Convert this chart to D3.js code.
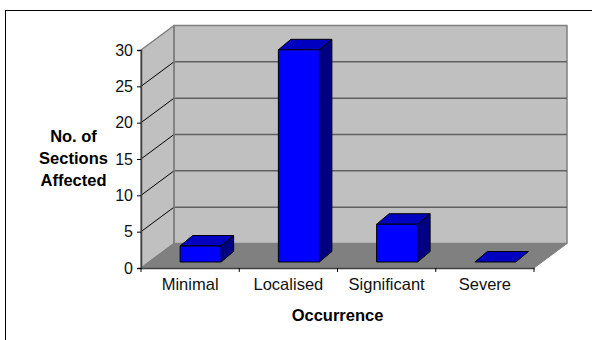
<!DOCTYPE html>
<html>
<head>
<meta charset="utf-8">
<script src="https://cdn.jsdelivr.net/npm/d3@7"></script>
<style>
  html, body { margin: 0; padding: 0; background: #fff; }
  svg { display: block; font-family: "Liberation Sans", Arial, sans-serif; }
</style>
</head>
<body>
<svg id="chart" width="592" height="340"></svg>
<script>
var categories = ["Minimal", "Localised", "Significant", "Severe"];
var values = [2.2, 29.2, 5.2, 0];
var yTicks = [0, 5, 10, 15, 20, 25, 30];
var yTitle = ["No. of", "Sections", "Affected"];
var xTitle = "Occurrence";

var svg = d3.select("#chart");

// front plane scales
var x = d3.scaleBand().domain(categories).range([141, 534]);
var y = d3.scaleLinear().domain([0, 30]).range([268, 50]);

// 3d offsets
var depth = { dx: 33, dy: -24.5 };
var barDepth = { dx: 12.5, dy: -10.5 };
var barShift = { dx: 10.5, dy: -6 };
var barWidth = 41;

function poly(points, fill, stroke, sw) {
  svg.append("polygon")
    .attr("points", points.map(function (p) { return p.join(","); }).join(" "))
    .attr("fill", fill)
    .attr("stroke", stroke)
    .attr("stroke-width", sw)
    .attr("stroke-linejoin", "round");
}

// outer frame
svg.append("rect")
  .attr("x", 5.5).attr("y", 10.5)
  .attr("width", 620).attr("height", 340)
  .attr("fill", "none")
  .attr("stroke", "black")
  .attr("stroke-width", 1);

var x0 = x.range()[0], x1 = x.range()[1];
var yb = y(0), yt = y(30);

// walls and floor
poly([[x0 + depth.dx, yt + depth.dy], [x1 + depth.dx, yt + depth.dy], [x1 + depth.dx, yb + depth.dy], [x0 + depth.dx, yb + depth.dy]], "#c0c0c0", "#808080", 1.5);
poly([[x0, yt], [x0 + depth.dx, yt + depth.dy], [x0 + depth.dx, yb + depth.dy], [x0, yb]], "#c0c0c0", "#808080", 1.5);
poly([[x0, yb], [x0 + depth.dx, yb + depth.dy], [x1 + depth.dx, yb + depth.dy], [x1, yb]], "#808080", "#808080", 1);

// grid lines
yTicks.slice(1, -1).forEach(function (t) {
  svg.append("line")
    .attr("x1", x0).attr("y1", y(t))
    .attr("x2", x0 + depth.dx).attr("y2", y(t) + depth.dy)
    .attr("stroke", "#000").attr("stroke-width", 1);
  svg.append("line")
    .attr("x1", x0 + depth.dx).attr("y1", y(t) + depth.dy)
    .attr("x2", x1 + depth.dx).attr("y2", y(t) + depth.dy)
    .attr("stroke", "#606060").attr("stroke-width", 1.5);
});

// back corner
svg.append("line")
  .attr("x1", x0 + depth.dx).attr("y1", yt + depth.dy)
  .attr("x2", x0 + depth.dx).attr("y2", yb + depth.dy)
  .attr("stroke", "#808080").attr("stroke-width", 1.5);

// bars
categories.forEach(function (c, i) {
  var l = x(c) + x.bandwidth() / 2 - barWidth / 2 + barShift.dx;
  var r = l + barWidth;
  var b = yb + barShift.dy;
  var t = y(values[i]) + barShift.dy;
  poly([[l, t], [l + barDepth.dx, t + barDepth.dy], [r + barDepth.dx, t + barDepth.dy], [r, t]], "#0000c0", "#000", 1);
  if (values[i] > 0) {
    poly([[r, t], [r + barDepth.dx, t + barDepth.dy], [r + barDepth.dx, b + barDepth.dy], [r, b]], "#000080", "#000", 1);
    poly([[l, t], [r, t], [r, b], [l, b]], "#0000ff", "#000", 1);
  }
});

// axes
svg.append("g")
  .attr("transform", "translate(" + x0 + ",0)")
  .call(d3.axisLeft(y).tickValues(yTicks).tickSize(4).tickPadding(4))
  .call(function (g) {
    g.select(".domain").attr("stroke", "#404040").attr("stroke-width", 1.5);
    g.selectAll("text").attr("font-size", 16).attr("font-family", "Liberation Sans").attr("fill", "#111");
  });

var xAxis = d3.axisBottom(x).tickSize(0).tickPadding(10);
svg.append("g")
  .attr("transform", "translate(0," + yb + ")")
  .call(xAxis)
  .call(function (g) {
    g.select(".domain").attr("stroke", "#404040").attr("stroke-width", 1.5);
    g.selectAll("text").attr("font-size", 16.5).attr("font-family", "Liberation Sans").attr("fill", "#111");
  });

// x ticks sit on the band edges
categories.concat([null]).forEach(function (c) {
  var px = c === null ? x1 : x(c);
  svg.append("line")
    .attr("x1", px).attr("y1", yb)
    .attr("x2", px).attr("y2", yb + 4)
    .attr("stroke", "#000");
});

// axis titles
svg.append("text")
  .attr("x", 337.5).attr("y", 321)
  .attr("text-anchor", "middle")
  .attr("font-size", 16.5)
  .attr("font-weight", "bold")
  .text(xTitle);

yTitle.forEach(function (s, i) {
  svg.append("text")
    .attr("x", 73.5).attr("y", 142 + i * 22)
    .attr("text-anchor", "middle")
    .attr("font-size", 16.5)
    .attr("font-weight", "bold")
    .text(s);
});
</script>
</body>
</html>
